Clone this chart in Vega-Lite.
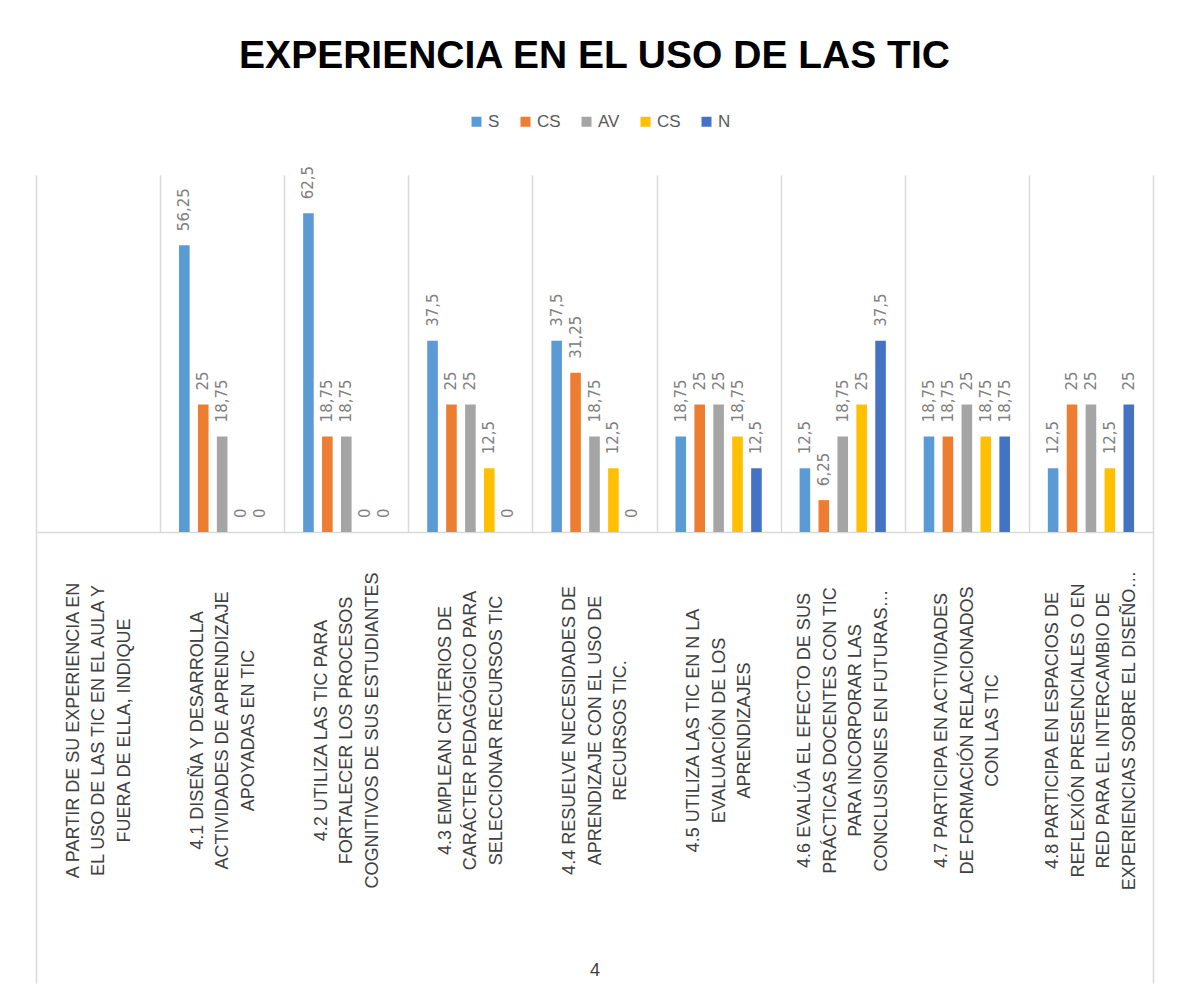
{
  "$schema": "https://vega.github.io/schema/vega-lite/v6.json",
  "autosize": {"type": "none"},
  "width": 1117,
  "height": 357,
  "padding": {"left": 36, "top": 175, "right": 29, "bottom": 460},
  "background": "white",
  "title": {
    "text": "EXPERIENCIA  EN EL USO DE LAS TIC",
    "font": "Liberation Sans",
    "fontSize": 39,
    "fontWeight": "bold",
    "color": "#000000",
    "anchor": "middle",
    "baseline": "alphabetic",
    "offset": 6
  },
  "config": {"view": {"stroke": null}},
  "data": {
    "values": [
      {"item": "4.1", "serie": "S", "valor": 56.25},
      {"item": "4.1", "serie": "CS", "valor": 25},
      {"item": "4.1", "serie": "AV", "valor": 18.75},
      {"item": "4.1", "serie": "CS2", "valor": 0},
      {"item": "4.1", "serie": "N", "valor": 0},
      {"item": "4.2", "serie": "S", "valor": 62.5},
      {"item": "4.2", "serie": "CS", "valor": 18.75},
      {"item": "4.2", "serie": "AV", "valor": 18.75},
      {"item": "4.2", "serie": "CS2", "valor": 0},
      {"item": "4.2", "serie": "N", "valor": 0},
      {"item": "4.3", "serie": "S", "valor": 37.5},
      {"item": "4.3", "serie": "CS", "valor": 25},
      {"item": "4.3", "serie": "AV", "valor": 25},
      {"item": "4.3", "serie": "CS2", "valor": 12.5},
      {"item": "4.3", "serie": "N", "valor": 0},
      {"item": "4.4", "serie": "S", "valor": 37.5},
      {"item": "4.4", "serie": "CS", "valor": 31.25},
      {"item": "4.4", "serie": "AV", "valor": 18.75},
      {"item": "4.4", "serie": "CS2", "valor": 12.5},
      {"item": "4.4", "serie": "N", "valor": 0},
      {"item": "4.5", "serie": "S", "valor": 18.75},
      {"item": "4.5", "serie": "CS", "valor": 25},
      {"item": "4.5", "serie": "AV", "valor": 25},
      {"item": "4.5", "serie": "CS2", "valor": 18.75},
      {"item": "4.5", "serie": "N", "valor": 12.5},
      {"item": "4.6", "serie": "S", "valor": 12.5},
      {"item": "4.6", "serie": "CS", "valor": 6.25},
      {"item": "4.6", "serie": "AV", "valor": 18.75},
      {"item": "4.6", "serie": "CS2", "valor": 25},
      {"item": "4.6", "serie": "N", "valor": 37.5},
      {"item": "4.7", "serie": "S", "valor": 18.75},
      {"item": "4.7", "serie": "CS", "valor": 18.75},
      {"item": "4.7", "serie": "AV", "valor": 25},
      {"item": "4.7", "serie": "CS2", "valor": 18.75},
      {"item": "4.7", "serie": "N", "valor": 18.75},
      {"item": "4.8", "serie": "S", "valor": 12.5},
      {"item": "4.8", "serie": "CS", "valor": 25},
      {"item": "4.8", "serie": "AV", "valor": 25},
      {"item": "4.8", "serie": "CS2", "valor": 12.5},
      {"item": "4.8", "serie": "N", "valor": 25}
    ]
  },
  "transform": [
    {"calculate": "replace(toString(datum.valor), '.', ',')", "as": "etiqueta"}
  ],
  "encoding": {
    "x": {
      "field": "item",
      "type": "nominal",
      "scale": {
        "domain": ["A", "4.1", "4.2", "4.3", "4.4", "4.5", "4.6", "4.7", "4.8"],
        "paddingInner": 0,
        "paddingOuter": 0
      },
      "axis": {
        "title": "4",
        "titleFont": "Liberation Sans",
        "titleFontSize": 18,
        "titleFontWeight": "normal",
        "titleColor": "#404040",
        "titleY": 438,
        "titleBaseline": "middle",
        "domain": true,
        "domainColor": "#d9d9d9",
        "domainWidth": 1.5,
        "grid": true,
        "gridColor": "#d9d9d9",
        "gridWidth": 1.5,
        "tickBand": "extent",
        "ticks": true,
        "tickSize": 451,
        "tickColor": "#d9d9d9",
        "tickWidth": 1.5,
        "tickOpacity": {"condition": {"test": "datum.index === 1 || datum.index < 0", "value": 1}, "value": 0},
        "labelAngle": 270,
        "labelAlign": "center",
        "labelBaseline": "middle",
        "labelPadding": -253,
        "labelOffset": {"condition": {"test": "datum.label === '4.6' || datum.label === '4.8'", "value": -38}, "value": -25},
        "labelExpr": "{'A': ['A PARTIR DE SU EXPERIENCIA EN', 'EL USO DE LAS TIC EN EL AULA Y', 'FUERA DE ELLA, INDIQUE'], '4.1': ['4.1 DISEÑA Y DESARROLLA', 'ACTIVIDADES DE APRENDIZAJE', 'APOYADAS EN TIC'], '4.2': ['4.2 UTILIZA LAS TIC PARA', 'FORTALECER LOS PROCESOS', 'COGNITIVOS DE SUS ESTUDIANTES'], '4.3': ['4.3 EMPLEAN CRITERIOS DE', 'CARÁCTER PEDAGÓGICO PARA', 'SELECCIONAR RECURSOS TIC'], '4.4': ['4.4 RESUELVE NECESIDADES DE', 'APRENDIZAJE CON EL USO DE', 'RECURSOS TIC.'], '4.5': ['4.5 UTILIZA LAS TIC EN N LA', 'EVALUACIÓN DE LOS', 'APRENDIZAJES'], '4.6': ['4.6 EVALÚA EL EFECTO DE SUS', 'PRÁCTICAS DOCENTES CON TIC', 'PARA INCORPORAR LAS', 'CONCLUSIONES EN FUTURAS…'], '4.7': ['4.7 PARTICIPA EN ACTIVIDADES', 'DE FORMACIÓN RELACIONADOS', 'CON LAS TIC'], '4.8': ['4.8  PARTICIPA EN ESPACIOS DE', 'REFLEXIÓN PRESENCIALES O EN', 'RED PARA EL INTERCAMBIO DE', 'EXPERIENCIAS SOBRE EL DISEÑO…']}[datum.label] || ''",
        "labelFont": "Liberation Sans",
        "labelFontSize": 18,
        "labelColor": "#404040",
        "labelLineHeight": 25.5,
        "labelLimit": 0,
        "labelOverlap": false,
        "labelBound": false,
        "labelFlush": false
      }
    },
    "xOffset": {
      "field": "serie",
      "type": "nominal",
      "scale": {"domain": ["S", "CS", "AV", "CS2", "N"], "paddingInner": 0.44, "paddingOuter": 1.2}
    },
    "y": {
      "field": "valor",
      "type": "quantitative",
      "scale": {"domain": [0, 70], "nice": false},
      "axis": null
    }
  },
  "layer": [
    {
      "mark": {"type": "bar"},
      "encoding": {
        "color": {
          "field": "serie",
          "type": "nominal",
          "scale": {
            "domain": ["S", "CS", "AV", "CS2", "N"],
            "range": ["#5B9BD5", "#ED7D31", "#A5A5A5", "#FFC000", "#4472C4"]
          },
          "legend": {
            "orient": "none",
            "legendX": 432,
            "legendY": -62,
            "direction": "horizontal",
            "title": null,
            "labelExpr": "datum.label == 'CS2' ? 'CS' : datum.label",
            "symbolType": "square",
            "symbolSize": 100,
            "symbolStrokeWidth": 0,
            "labelFont": "Liberation Sans",
            "labelFontSize": 17,
            "labelColor": "#595959",
            "labelOffset": 3,
            "columnPadding": 17
          }
        }
      }
    },
    {
      "mark": {
        "type": "text",
        "angle": 270,
        "align": "left",
        "baseline": "middle",
        "yOffset": -14,
        "font": "DejaVu Sans",
        "fontSize": 15,
        "color": "#808080"
      },
      "encoding": {"text": {"field": "etiqueta", "type": "nominal"}}
    }
  ]
}
